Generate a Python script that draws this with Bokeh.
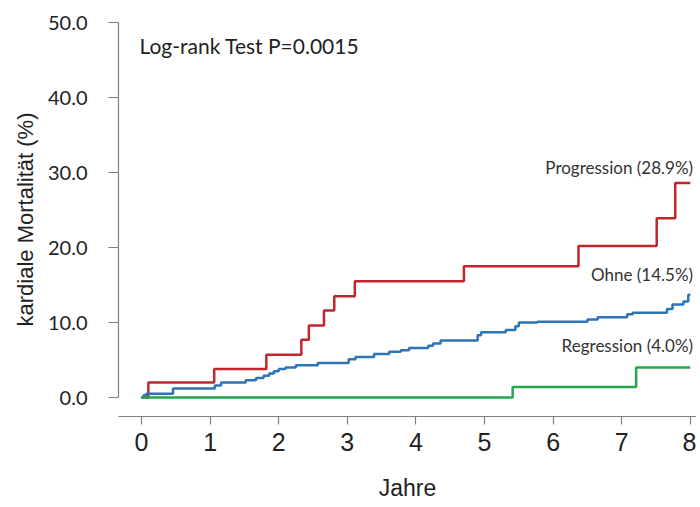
from bokeh.plotting import figure
from bokeh.models import Range1d, FixedTicker, NumeralTickFormatter
from bokeh.core.properties import value
from bokeh.embed import file_html
from bokeh.resources import INLINE

# Kaplan-Meier style cumulative cardiac mortality (%)
prog_t = [0.0, 0.10, 1.06, 1.82, 2.33, 2.44, 2.66, 2.81, 3.11, 4.70, 6.37, 7.51, 7.78, 8.0]
prog_y = [0.0, 2.0, 3.8, 5.7, 7.7, 9.6, 11.6, 13.5, 15.5, 17.5, 20.2, 23.9, 28.6, 28.6]

ohne_t = [0.0, 0.03, 0.07, 0.46, 1.07, 1.16, 1.52, 1.67, 1.78, 1.86, 1.93, 2.00, 2.10,
          2.25, 2.57, 3.02, 3.12, 3.39, 3.61, 3.78, 3.90, 4.18, 4.25, 4.36, 4.90, 4.95,
          5.31, 5.45, 5.50, 5.77, 6.50, 6.65, 7.08, 7.16, 7.66, 7.74, 7.90, 7.97, 8.0]
ohne_y = [0.0, 0.3, 0.5, 1.2, 1.6, 2.0, 2.3, 2.6, 2.9, 3.2, 3.5, 3.8, 4.0,
          4.3, 4.6, 5.1, 5.4, 5.8, 6.1, 6.3, 6.6, 6.9, 7.2, 7.6, 8.3, 8.7,
          9.0, 9.5, 10.0, 10.1, 10.4, 10.7, 11.1, 11.3, 11.8, 12.4, 12.8, 13.7, 13.7]

regr_t = [0.0, 5.41, 7.21, 8.0]
regr_y = [0.0, 1.4, 4.0, 4.0]

series_labels = ["Progression (28.9%)", "Ohne (14.5%)", "Regression (4.0%)"]
label_y = [30.7, 16.4, 6.9]
colors = ["#C0272D", "#2E75B6", "#22A84C"]

y_ticks = [0, 10, 20, 30, 40, 50]
x_ticks = [0, 1, 2, 3, 4, 5, 6, 7, 8]
annotation = "Log-rank Test P=0.0015"

p = figure(width=696, height=506, output_backend="svg", toolbar_location=None,
           x_range=Range1d(-0.335, 8.09), y_range=Range1d(-2.53, 50),
           min_border_left=118, min_border_right=0, min_border_top=22,
           min_border_bottom=90)
p.outline_line_color = None
p.xgrid.visible = False
p.ygrid.visible = False
p.background_fill_color = "white"
p.border_fill_color = "white"

for t, y, c in zip([prog_t, ohne_t, regr_t], [prog_y, ohne_y, regr_y], colors):
    p.step(t, y, mode="after", line_color=c, line_width=2.5)

p.text(x=[8.04] * 3, y=label_y, text=series_labels, text_align="right",
       text_baseline="middle", text_font=value("Lato"), text_font_size="17px",
       text_color="#333333")
p.text(x=[-0.03], y=[46.9], text=[annotation], text_align="left",
       text_baseline="middle", text_font=value("Lato"), text_font_size="21px",
       text_color="#222222")

# y axis
ya = p.yaxis[0]
ya.bounds = (0, 50)
ya.ticker = FixedTicker(ticks=y_ticks)
ya.formatter = NumeralTickFormatter(format="0.0")
ya.axis_line_color = "#808080"
ya.axis_line_width = 1.2
ya.major_tick_line_color = "#808080"
ya.major_tick_line_width = 1.2
ya.major_tick_out = 10
ya.major_tick_in = 0
ya.minor_tick_line_color = None
ya.major_label_standoff = 21
ya.major_label_text_font = "Lato"
ya.major_label_text_font_size = "20px"
ya.major_label_text_color = "#222222"
ya.axis_label = "kardiale Mortalität (%)"
ya.axis_label_text_font = "Liberation Sans"
ya.axis_label_text_font_size = "22px"
ya.axis_label_text_font_style = "normal"
ya.axis_label_text_color = "#222222"
ya.axis_label_standoff = 7

# x axis
xa = p.xaxis[0]
xa.ticker = FixedTicker(ticks=x_ticks)
xa.axis_line_color = "#808080"
xa.axis_line_width = 1.2
xa.major_tick_line_color = "#808080"
xa.major_tick_line_width = 1.2
xa.major_tick_out = 8
xa.major_tick_in = 0
xa.minor_tick_line_color = None
xa.major_label_standoff = 8
xa.major_label_text_font = "Liberation Sans"
xa.major_label_text_font_size = "25px"
xa.major_label_text_color = "#222222"
xa.axis_label = "Jahre"
xa.axis_label_text_font = "Liberation Sans"
xa.axis_label_text_font_size = "23px"
xa.axis_label_text_font_style = "normal"
xa.axis_label_text_color = "#222222"
xa.axis_label_standoff = 21

open("out.html", "w").write(file_html(p, INLINE))
